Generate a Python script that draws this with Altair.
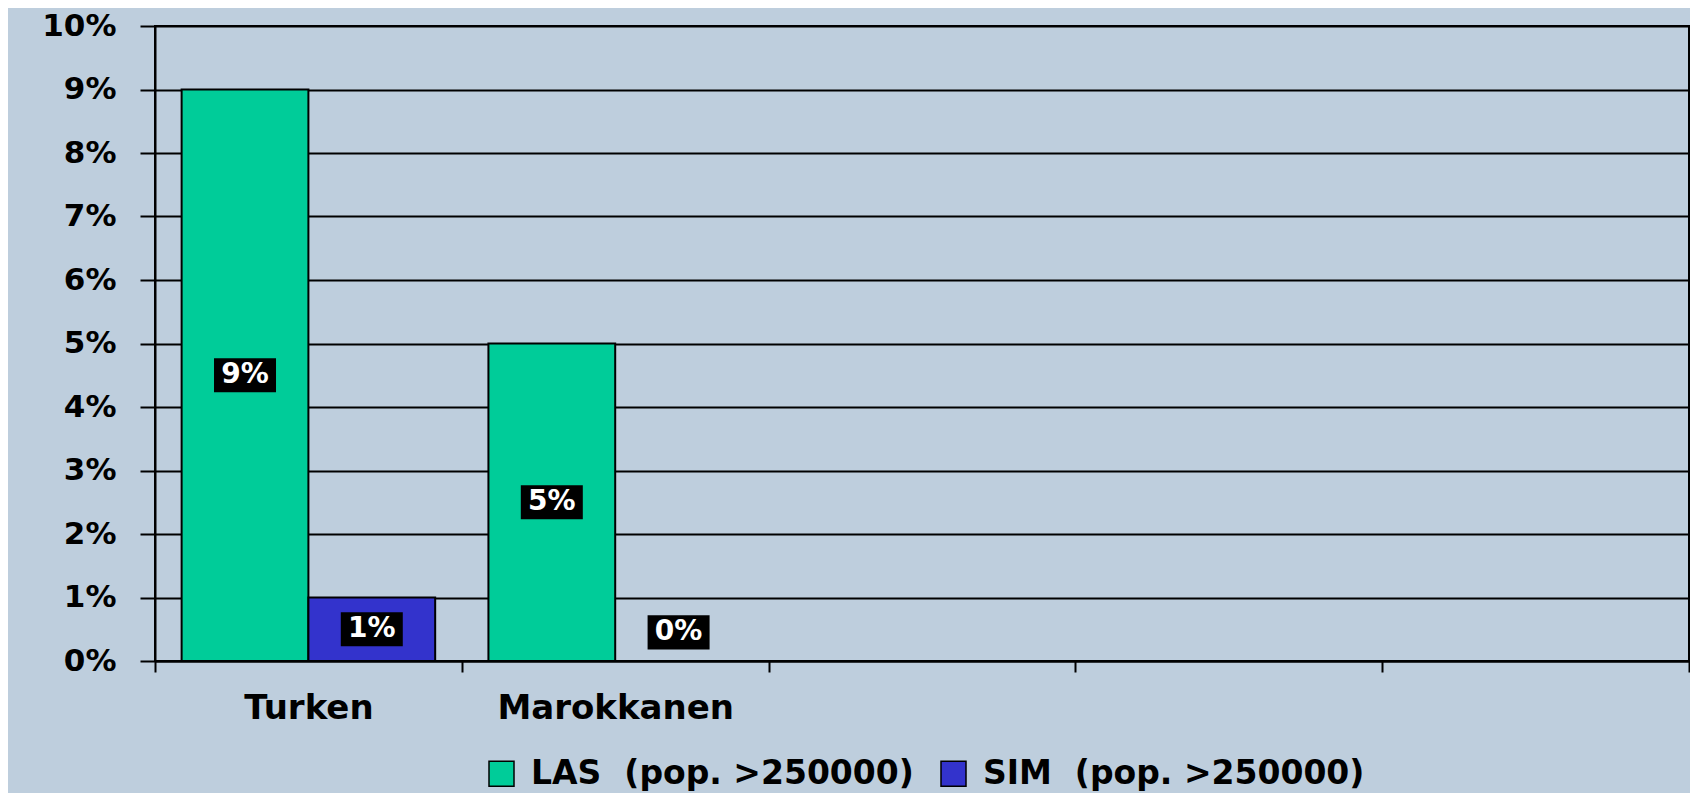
import altair as alt
import pandas as pd

categories = ["Turken", "Marokkanen", " ", "  ", "   "]
series = ["LAS \u00a0(pop. >250000)", "SIM \u00a0(pop. >250000)"]
las_values = [0.09, 0.05]
sim_values = [0.01, 0.00]
colors = ["#00CC99", "#3333CC"]
y_ticks = [0.00, 0.01, 0.02, 0.03, 0.04, 0.05, 0.06, 0.07, 0.08, 0.09, 0.10]

rows = []
for i, cat in enumerate(categories[:2]):
    rows.append({"category": cat, "series": series[0], "value": las_values[i]})
    rows.append({"category": cat, "series": series[1], "value": sim_values[i]})
df = pd.DataFrame(rows)

FONT = "DejaVu Sans"
BG = "#BECEDD"

x_scale = alt.Scale(domain=categories, paddingInner=0, paddingOuter=0)
y_scale = alt.Scale(domain=[0, 0.1], nice=False, zero=True)
x_axis = alt.Axis(tickBand="extent", labelAngle=0, labelPadding=19,
                  tickSize=11, labelFontSize=34, labelLimit=0, grid=False)
y_axis = alt.Axis(values=y_ticks, format=".0%", tickSize=15,
                  labelPadding=24, labelFontSize=31, grid=True)

xoff = alt.XOffset("series:N", sort=series,
                   scale=alt.Scale(domain=series, paddingInner=0, paddingOuter=0.21))
x_enc = alt.X("category:N", sort=categories, scale=x_scale, title=None, axis=x_axis)

base = alt.Chart(df)

bars = base.mark_bar(stroke="black", strokeWidth=2, opacity=1).encode(
    x=x_enc,
    xOffset=xoff,
    y=alt.Y("value:Q", scale=y_scale, title=None, axis=y_axis),
    color=alt.Color("series:N", sort=series,
                    scale=alt.Scale(domain=series, range=colors),
                    legend=alt.Legend(orient="none", direction="horizontal",
                                      legendX=330, legendY=731, title=None,
                                      symbolType="square", symbolSize=625,
                                      symbolStrokeColor="black", symbolStrokeWidth=1.5,
                                      symbolOpacity=1, labelFont=FONT,
                                      labelFontWeight="bold", labelFontSize=33,
                                      labelColor="black", labelOffset=13,
                                      columnPadding=23, labelLimit=0)),
)

label_base = base.transform_calculate(label_pos="max(datum.value / 2, 0.0045)")

boxes = label_base.mark_point(
    shape="M-1,-0.55L1,-0.55L1,0.55L-1,0.55Z", size=3844, filled=True,
    color="black", opacity=1, strokeWidth=0
).encode(
    x=x_enc,
    xOffset=xoff,
    y=alt.Y("label_pos:Q", scale=y_scale, title=None, axis=y_axis),
)

texts = label_base.mark_text(
    color="white", font=FONT, fontWeight="bold", fontSize=28,
    baseline="middle", align="center"
).encode(
    x=x_enc,
    xOffset=xoff,
    y=alt.Y("label_pos:Q", scale=y_scale, title=None, axis=y_axis),
    text=alt.Text("value:Q", format=".0%"),
)

chart = alt.layer(bars, boxes, texts).properties(
    width=1534, height=635,
    autosize=alt.AutoSizeParams(type="none"),
    padding={"left": 147, "top": 18, "right": 1, "bottom": 132},
    background=BG,
).configure_view(
    stroke="black", strokeWidth=2, fill=BG
).configure_axis(
    domainColor="black", domainWidth=2, tickColor="black", tickWidth=2,
    gridColor="black", gridWidth=2, gridOpacity=1,
    labelFont=FONT, labelFontWeight="bold", labelColor="black",
)

chart.save("out.html", embed_options={"renderer": "svg", "actions": False})
